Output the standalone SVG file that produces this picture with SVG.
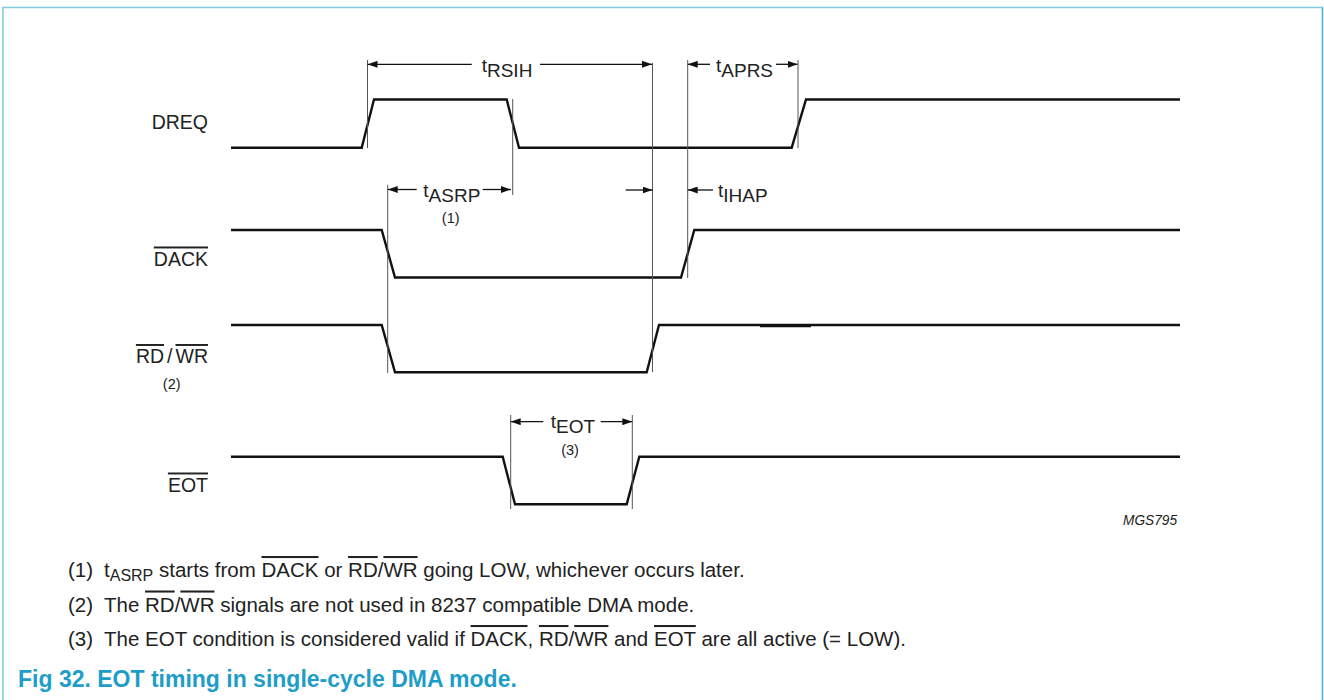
<svg xmlns="http://www.w3.org/2000/svg" width="1324" height="700" viewBox="0 0 1324 700">
<defs>
<style>
.sig{fill:none;stroke:#111;stroke-width:2.4;stroke-linejoin:miter}
.ref{fill:none;stroke:#555;stroke-width:1}
.dim{fill:none;stroke:#111;stroke-width:1.3}
.lbl{font-family:"Liberation Sans",Arial,sans-serif;font-size:19.5px;fill:#222}
.tim{font-family:"Liberation Sans",Arial,sans-serif;font-size:19px;fill:#222}
.note{font-family:"Liberation Sans",Arial,sans-serif;font-size:14.5px;fill:#222}
.fn{font-family:"Liberation Sans",Arial,sans-serif;font-size:20.5px;fill:#222}
.ov{text-decoration:overline}
.cap{font-family:"Liberation Sans",Arial,sans-serif;font-size:23px;font-weight:bold;fill:#1e9dc8}
.id{font-family:"Liberation Sans",Arial,sans-serif;font-size:15px;font-style:italic;fill:#222}
</style>
<marker id="ah" viewBox="0 0 10 7" refX="10" refY="3.5" markerWidth="10" markerHeight="7" markerUnits="userSpaceOnUse" orient="auto">
<path d="M0,0 L10,3.5 L0,7 Z" fill="#111"/>
</marker>
</defs>
<rect width="1324" height="700" fill="#fff"/>
<path d="M3,700 V7.5 H1323" fill="none" stroke="#7ecbdc" stroke-width="1.5"/>
<path d="M1322.5,7.5 V700" fill="none" stroke="#3fb0d8" stroke-width="1.5"/>

<g id="DREQ">
<text class="lbl" x="208" y="128.5" text-anchor="end">DREQ</text>
<path class="sig" d="M231,147.7 H361.7 L374,99.5 H506.7 L519,147.7 H791.7 L806,99.5 H1180"/>
</g>
<g id="DACK">
<text class="lbl" x="208" y="265.5" text-anchor="end"><tspan class="ov">DACK</tspan></text>
<path class="sig" d="M231,230 H381.7 L395,277.5 H681 L694.3,230 H1180"/>
</g>
<g id="RDWR">
<text class="lbl" x="208" y="363" text-anchor="end"><tspan class="ov">RD</tspan><tspan dx="3">/</tspan><tspan dx="3" class="ov">WR</tspan></text>
<text class="note" x="171.7" y="388.5" text-anchor="middle">(2)</text>
<path class="sig" d="M231,325 H381.7 L395,372.3 H646.7 L659,325 H1180"/>
<path class="sig" d="M760,326 H811"/>
</g>
<g id="EOT">
<text class="lbl" x="208" y="491.5" text-anchor="end"><tspan class="ov">EOT</tspan></text>
<path class="sig" d="M231,456.7 H502.7 L515,504.3 H626.7 L639.3,456.7 H1180"/>
</g>

<g id="connectors">
<path class="ref" d="M367.5,60 V148 M512.7,99 V195 M652.5,63 V372 M687.7,60 V278 M798,60 V148 M387.7,185 V373 M510.7,415 V509 M632.3,415 V509"/>
<path class="dim" marker-end="url(#ah)" d="M471.7,64.3 H367.5"/>
<path class="dim" marker-end="url(#ah)" d="M540,64.3 H652"/>
<path class="dim" marker-end="url(#ah)" d="M710,64.3 H687.7"/>
<path class="dim" marker-end="url(#ah)" d="M776,64.3 H797.5"/>
<path class="dim" marker-end="url(#ah)" d="M416.7,189.5 H387.7"/>
<path class="dim" marker-end="url(#ah)" d="M482.7,189.5 H511"/>
<path class="dim" marker-end="url(#ah)" d="M625.7,190 H652.5"/>
<path class="dim" marker-end="url(#ah)" d="M713,190 H687.7"/>
<path class="dim" marker-end="url(#ah)" d="M543.3,421.7 H510.7"/>
<path class="dim" marker-end="url(#ah)" d="M600.7,421.7 H632.3"/>
</g>

<g id="labels">
<text class="tim" x="481.7" y="71.5">t<tspan dy="5.8">RSIH</tspan></text>
<text class="tim" x="716" y="71.5">t<tspan dy="5.8">APRS</tspan></text>
<text class="tim" x="423.3" y="196.5">t<tspan dy="5.8">ASRP</tspan></text>
<text class="note" x="450.7" y="222.5" text-anchor="middle">(1)</text>
<text class="tim" x="718" y="196.5">t<tspan dy="5.8">IHAP</tspan></text>
<text class="tim" x="550.7" y="427.5">t<tspan dy="5.8">EOT</tspan></text>
<text class="note" x="570" y="454.5" text-anchor="middle">(3)</text>
<text class="id" x="1177" y="525" text-anchor="end" textLength="54" lengthAdjust="spacingAndGlyphs">MGS795</text>
</g>

<g id="notes">
<text class="fn" x="68" y="577">(1)</text>
<text class="fn" x="104" y="577">t<tspan dy="4" font-size="16">ASRP</tspan><tspan dy="-4"> starts from </tspan><tspan class="ov">DACK</tspan> or <tspan class="ov">RD</tspan>/<tspan class="ov">WR</tspan> going LOW, whichever occurs later.</text>
<text class="fn" x="68" y="611.5">(2)</text>
<text class="fn" x="104" y="611.5">The <tspan class="ov">RD</tspan>/<tspan class="ov">WR</tspan> signals are not used in 8237 compatible DMA mode.</text>
<text class="fn" x="68" y="646">(3)</text>
<text class="fn" x="104" y="646">The EOT condition is considered valid if <tspan class="ov">DACK</tspan>, <tspan class="ov">RD</tspan>/<tspan class="ov">WR</tspan> and <tspan class="ov">EOT</tspan> are all active (= LOW).</text>
<text class="cap" x="18" y="687">Fig 32. EOT timing in single-cycle DMA mode.</text>
</g>
</svg>
